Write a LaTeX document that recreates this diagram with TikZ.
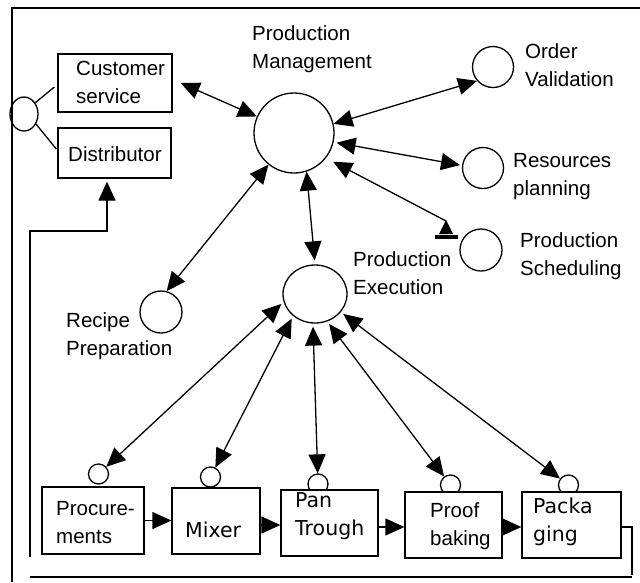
\documentclass[tikz,border=0pt]{standalone}
\usepackage{fontspec}
\setmainfont{Liberation Sans}
\newfontfamily\dvs{DejaVu Sans}
\usetikzlibrary{arrows.meta,shapes.geometric,calc}
\begin{document}
\begin{tikzpicture}[x=1pt,y=-1pt,
  lw/.style={line width=1.3pt},
  conn/.style={lw},
  >={Triangle[length=19pt,width=17pt]},
  circ/.style={circle,draw,lw,inner sep=0pt,fill=white},
  boxn/.style={draw,lw,inner sep=0pt,fill=white},
  lbl/.style={anchor=base west,align=left,inner sep=0pt,font=\fontsize{20.5}{28}\selectfont},
  lbld/.style={anchor=base west,align=left,inner sep=0pt,font=\dvs\fontsize{20.5}{28}\selectfont}]
\useasboundingbox (0,0) rectangle (640,582);
% frame
\draw[lw] (12,582) -- (12,8) -- (640,8);
% management level
\node[circ,minimum size=80pt] (pm) at (294,133) {};
\node[circ,minimum size=41pt] (ov) at (493,67) {};
\node[circ,minimum size=41pt] (rp) at (483,168) {};
\node[circ,minimum size=42pt] (ps) at (481,250) {};
\node[ellipse,draw,lw,inner sep=0pt,minimum width=64pt,minimum height=58pt] (pe) at (315,294) {};
\node[circ,minimum size=42pt] (rec) at (161,312) {};
\node[boxn,minimum width=114pt,minimum height=58pt] (cs) at (115,83) {};
\node[boxn,minimum width=113pt,minimum height=50pt] (dist) at (114.5,153) {};
\node[ellipse,draw,lw,inner sep=0pt,minimum width=28pt,minimum height=34pt] (lc) at (24,114) {};
% small circles
\node[circ,minimum size=20pt] (pc1) at (98.5,474) {};
\node[circ,minimum size=20pt] (pc2) at (210.5,477) {};
\node[circ,minimum size=20pt] (pc3) at (318,484) {};
\node[circ,minimum size=20pt] (pc4) at (450.5,485) {};
\node[circ,minimum size=20pt] (pc5) at (568.5,485) {};
% boxes
\node[boxn,minimum width=102pt,minimum height=67pt] (proc) at (93,520.5) {};
\node[boxn,minimum width=88pt,minimum height=66pt] (mix) at (216,521) {};
\node[boxn,minimum width=97pt,minimum height=66pt] (pan) at (329.5,523) {};
\node[boxn,minimum width=97pt,minimum height=66pt] (proof) at (453.5,525) {};
\node[boxn,minimum width=99pt,minimum height=66pt] (pack) at (571.5,525) {};
% labels (base anchor = baseline of the last line)
\node[lbl] (tpm) at (252,68) {Production\\Management};
\node[lbl] (tcs) at (76,103) {Customer\\service};
\node[lbl] (tdist) at (68,161) {Distributor};
\node[lbl] (tov) at (525,86) {Order\\Validation};
\node[lbl] (trp) at (513,195) {Resources\\planning};
\node[lbl] (tps) at (520,275) {Production\\Scheduling};
\node[lbl] (tpe) at (353,294) {Production\\Execution};
\node[lbl] (trec) at (66,355) {Recipe\\Preparation};
\node[lbl] (tproc) at (56,543) {Procure-\\ments};
\node[lbld] (tmix) at (185,537) {Mixer};
\node[lbld] (tpan) at (295,535) {Pan\\Trough};
\node[lbl] (tproof) at (430,545) {Proof\\baking};
\node[lbld] (tpack) at (533,541) {Packa\\ging};
% left connector lines
\draw[lw] (lc.45) -- ($(cs.west)+(-3,4)$);
\draw[lw] (lc.-40) -- ($(dist.west)+(-1,-4)$);
% arrows around production management
\draw[conn,<->] (pm.156) -- ([xshift=8pt]cs.east);
\draw[conn,<->] (pm.13) -- (ov.221);
\draw[conn,<->,shorten <=3pt,shorten >=2pt] (pm.347) -- (rp.173);
\coordinate (pst) at (446,221);
\draw[conn,<-,shorten <=8pt] (pm.322) -- (pst);
\fill (446,220) -- (453,234) -- (439,234) -- cycle;
\fill (435,235) rectangle (458,239);
\draw[conn,<->] (pm.231.5) -- (rec.75);
\draw[conn,<->,shorten >=4pt] (pm.288) -- (pe.90);
% arrows from production execution
\draw[conn,<->,shorten <=3pt] (pe.194) -- (pc1);
\draw[conn,<->,shorten <=3pt] (pe.225) -- (pc2);
\draw[conn,<->,shorten <=3pt] (pe.266) -- (pc3);
\draw[conn,<->,shorten <=3pt] (pe.294) -- (pc4);
\draw[conn,<->,shorten <=3pt] (pe.325) -- (pc5);
% flow between boxes
\draw[conn,->] (proc.east) -- (proc.east -| mix.west);
\draw[conn,->] ([yshift=-4pt]mix.east) -- ([yshift=-4pt]mix.east -| pan.west);
\draw[conn,->] ([yshift=-4pt]pan.east) -- ([yshift=-4pt]pan.east -| proof.west);
\draw[conn,->] ([yshift=-2pt]proof.east) -- ([yshift=-2pt]proof.east -| pack.west);
% feedback line
\coordinate (f1) at (632,527);
\coordinate (f2) at (632,575);
\draw[conn] ([yshift=-2pt]pack.east) -- (f1) -- (f2);
\coordinate (b1) at (632,577);
\coordinate (b2) at (30,577);
\draw[conn] (b1) -- (b2);
\coordinate (l1) at (30,557);
\coordinate (l2) at (30,231);
\coordinate (l3) at (107,231);
\draw[conn,->,shorten >=3pt] (l1) -- (l2) -- (l3) -- (l3 |- dist.south);
\end{tikzpicture}
\end{document}
